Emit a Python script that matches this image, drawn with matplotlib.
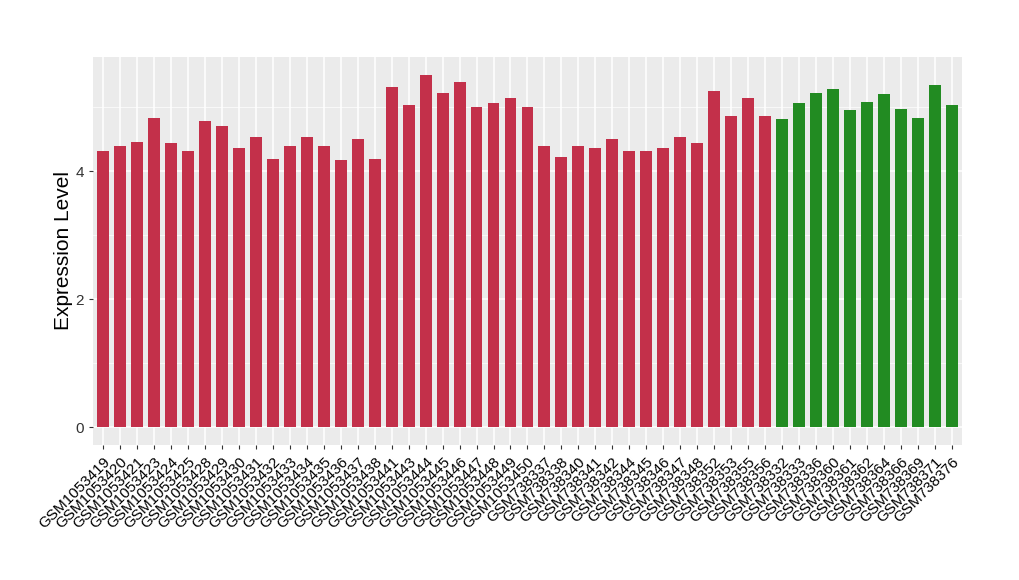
import matplotlib
matplotlib.use("Agg")
import matplotlib.pyplot as plt
import numpy as np

samples_a = ["GSM1053419", "GSM1053420", "GSM1053421", "GSM1053423", "GSM1053424",
             "GSM1053425", "GSM1053428", "GSM1053429", "GSM1053430", "GSM1053431",
             "GSM1053432", "GSM1053433", "GSM1053434", "GSM1053435", "GSM1053436",
             "GSM1053437", "GSM1053438", "GSM1053441", "GSM1053443", "GSM1053444",
             "GSM1053445", "GSM1053446", "GSM1053447", "GSM1053448", "GSM1053449",
             "GSM1053450", "GSM738337", "GSM738338", "GSM738340", "GSM738341",
             "GSM738342", "GSM738344", "GSM738345", "GSM738346", "GSM738347",
             "GSM738348", "GSM738352", "GSM738353", "GSM738355", "GSM738356"]
values_a = [4.32, 4.39, 4.45, 4.84, 4.44, 4.32, 4.79, 4.70, 4.37, 4.53,
            4.19, 4.39, 4.53, 4.40, 4.17, 4.50, 4.20, 5.31, 5.04, 5.51,
            5.23, 5.40, 5.00, 5.07, 5.14, 5.00, 4.39, 4.22, 4.40, 4.36,
            4.51, 4.31, 4.31, 4.37, 4.54, 4.44, 5.26, 4.86, 5.14, 4.87]

samples_b = ["GSM738332", "GSM738333", "GSM738336", "GSM738360", "GSM738361",
             "GSM738362", "GSM738364", "GSM738366", "GSM738369", "GSM738371",
             "GSM738376"]
values_b = [4.81, 5.07, 5.23, 5.28, 4.96, 5.09, 5.21, 4.98, 4.84, 5.35, 5.03]

RED = "#C3304A"; GREEN = "#228B22"; PANEL = "#EBEBEB"

labels = samples_a + samples_b
vals = values_a + values_b
colors = [RED] * len(values_a) + [GREEN] * len(values_b)
x = np.arange(len(labels))

fig = plt.figure(figsize=(10.2, 5.8), dpi=100)
ax = fig.add_axes([0.0912, 0.2328, 0.8518, 0.6689])
ax.set_facecolor(PANEL)
ax.bar(x, vals, width=0.7, color=colors, zorder=3)

vmax = max(vals)
ax.set_ylim(-0.05 * vmax, 1.05 * vmax)
ax.set_xlim(-0.6, len(labels) - 0.4)
ax.set_yticks([0, 2, 4])
ax.set_yticks([1, 3, 5], minor=True)
ax.grid(which="major", color="white", lw=1.1, zorder=0)
ax.grid(which="minor", axis="y", color="white", lw=0.5, zorder=0)
ax.set_axisbelow(True)
for s in ax.spines.values():
    s.set_visible(False)

ax.set_xticks(x)
ax.set_xticklabels(labels, rotation=45, ha="right", rotation_mode="anchor",
                   fontsize=11, family="Liberation Sans", color="black")
ax.tick_params(axis="both", which="major", length=3, color="#333333", width=0.8)
ax.tick_params(axis="x", pad=4)
ax.tick_params(axis="y", which="minor", length=0)
ax.tick_params(axis="y", labelsize=11, labelcolor="#333333")
for t in ax.get_yticklabels():
    t.set_family("Liberation Sans")
ax.set_ylabel("Expression Level", fontsize=15, family="Liberation Sans", labelpad=2)

fig.savefig("out.png", dpi=100)
